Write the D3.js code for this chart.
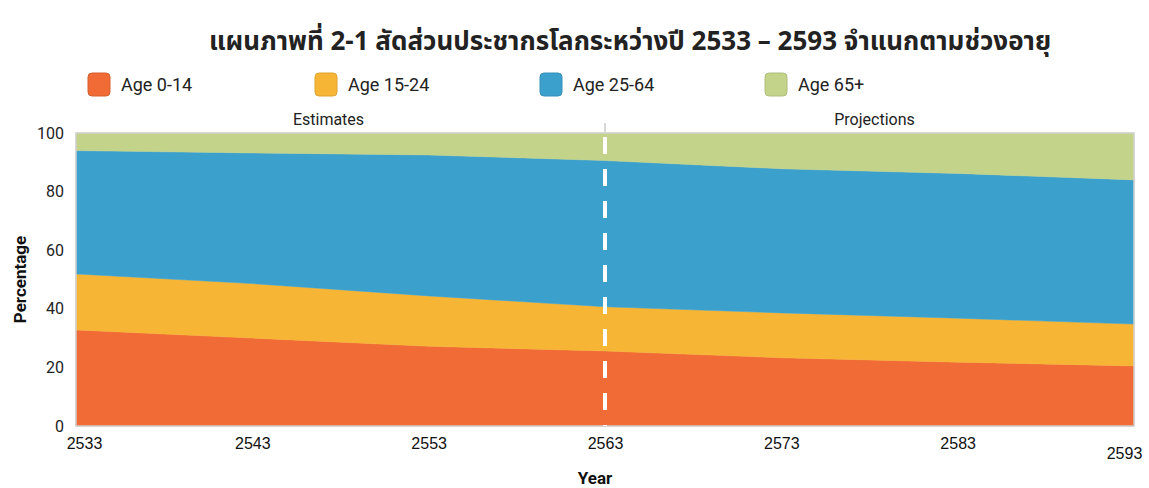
<!DOCTYPE html>
<html>
<head>
<meta charset="utf-8">
<script src="https://cdn.jsdelivr.net/npm/d3@7"></script>
<style>
  body { margin: 0; background: #fff; }
  svg { display: block; font-family: Roboto, "Liberation Sans", Arial, sans-serif; }
</style>
</head>
<body>
<svg id="chart" width="1149" height="488"></svg>
<script>
// ---- data ----
const years = [2533, 2543, 2553, 2563, 2573, 2583, 2593];
const age0_14  = [32.8, 30.0, 27.2, 25.6, 23.3, 21.8, 20.5];
const age15_24 = [19.1, 18.6, 17.2, 15.1, 15.3, 15.0, 14.3];
const age25_64 = [42.1, 44.6, 48.1, 49.9, 49.2, 49.4, 49.2];
const age65p   = [6.0, 6.8, 7.5, 9.4, 12.2, 13.8, 16.0];
const seriesNames = ["Age 0-14", "Age 15-24", "Age 25-64", "Age 65+"];
const yTicks = [0, 20, 40, 60, 80, 100];
const xTicks = [2533, 2543, 2553, 2563, 2573, 2583, 2593];
const splitYear = 2563;
const periodLabels = ["Estimates", "Projections"];
const titleText = "แผนภาพที่ 2-1 สัดส่วนประชากรโลกระหว่างปี 2533 – 2593 จำแนกตามช่วงอายุ";

// ---- build ----
(function () {
const colors = ["#f06b35", "#f7b536", "#3ca0cd", "#c3d38a"];
const keys = ["a", "b", "c", "d"];
const table = years.map((yr, i) => ({ year: yr, a: age0_14[i], b: age15_24[i], c: age25_64[i], d: age65p[i] }));

const svg = d3.select("#chart");
const pL = 76, pR = 1134, pT = 133, pB = 426;

const x = d3.scaleLinear().domain([years[0], years[years.length - 1]]).range([pL, pR]);
const y = d3.scaleLinear().domain([0, 100]).range([pB, pT]);

const stacked = d3.stack().keys(keys)(table);

const area = d3.area()
  .x(d => x(d.data.year))
  .y0(d => y(d[0]))
  .y1(d => y(d[1]));

svg.append("g").selectAll("path")
  .data(stacked)
  .join("path")
  .attr("d", area)
  .attr("fill", (d, i) => colors[i])
  .attr("stroke", (d, i) => colors[i])
  .attr("stroke-width", 0.5);

// plot frame
svg.append("rect")
  .attr("x", pL).attr("y", pT)
  .attr("width", pR - pL).attr("height", pB - pT)
  .attr("fill", "none").attr("stroke", "#cfcfcf").attr("stroke-width", 1.5);

// dashed separator
svg.append("line")
  .attr("x1", x(splitYear)).attr("x2", x(splitYear))
  .attr("y1", pT - 10).attr("y2", pT)
  .attr("stroke", "#d8d8d8").attr("stroke-width", 2);
svg.append("line")
  .attr("x1", x(splitYear)).attr("x2", x(splitYear))
  .attr("y1", pT + 4).attr("y2", pB)
  .attr("stroke", "#ffffff").attr("stroke-width", 4)
  .attr("stroke-dasharray", "17,15");

// y axis
const yAxis = d3.axisLeft(y).tickValues(yTicks).tickSize(0).tickPadding(12);
const yg = svg.append("g").attr("transform", `translate(${pL},0)`).call(yAxis);
yg.select(".domain").remove();
yg.selectAll("text").attr("font-size", 16).attr("fill", "#222").attr("font-family", "Roboto, sans-serif");

// x axis
const xAxis = d3.axisBottom(x).tickValues(xTicks).tickFormat(d3.format("d")).tickSize(0).tickPadding(12);
const xg = svg.append("g").attr("transform", `translate(0,${pB})`).call(xAxis);
xg.select(".domain").remove();
xg.selectAll("text").attr("font-size", 16).attr("fill", "#111").attr("font-family", "Liberation Sans, Arial, sans-serif")
  .attr("dx", (d, i) => i === 0 ? 8 : (i === xTicks.length - 1 ? -10 : 0))
  .attr("dy", (d, i) => i === xTicks.length - 1 ? "1.3em" : "0.71em");

// axis titles
svg.append("text")
  .attr("transform", `translate(26,${(pT + pB) / 2}) rotate(-90)`)
  .attr("text-anchor", "middle")
  .attr("font-size", 17).attr("font-weight", "bold").attr("fill", "#111")
  .text("Percentage");
svg.append("text")
  .attr("x", 595).attr("y", 484)
  .attr("text-anchor", "middle")
  .attr("font-size", 17).attr("font-weight", "bold").attr("fill", "#111")
  .text("Year");

// period labels
svg.append("text").attr("x", (pL + x(splitYear)) / 2 - 12).attr("y", 125)
  .attr("text-anchor", "middle").attr("font-size", 16).attr("fill", "#222").text(periodLabels[0]);
svg.append("text").attr("x", (x(splitYear) + pR) / 2 + 5).attr("y", 125)
  .attr("text-anchor", "middle").attr("font-size", 16).attr("fill", "#222").text(periodLabels[1]);

// legend
const legendX = [88, 315, 540, 765];
const lg = svg.append("g").selectAll("g").data(seriesNames).join("g")
  .attr("transform", (d, i) => `translate(${legendX[i]},73)`);
lg.append("rect").attr("width", 22).attr("height", 23).attr("rx", 4)
  .attr("fill", (d, i) => colors[i])
  .attr("stroke", (d, i) => d3.color(colors[i]).darker(0.3)).attr("stroke-width", 1);
lg.append("text").attr("x", 33).attr("y", 18)
  .attr("font-size", 18).attr("fill", "#222").text(d => d);

// title
svg.append("text")
  .attr("x", 630).attr("y", 50)
  .attr("text-anchor", "middle")
  .attr("font-size", 26).attr("font-weight", "bold").attr("fill", "#222")
  .attr("font-family", "'Noto Sans Thai', 'Noto Sans', 'Leelawadee UI', Tahoma, sans-serif")
  .text(titleText);
})();
</script>
</body>
</html>
